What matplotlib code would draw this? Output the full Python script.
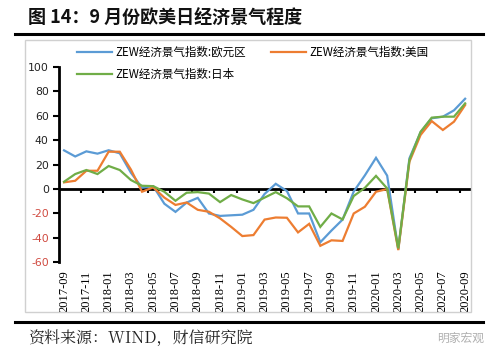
import matplotlib
matplotlib.use("Agg")
import matplotlib.pyplot as plt
from matplotlib.patches import Rectangle
from matplotlib.lines import Line2D

plt.rcParams['font.family'] = ['Noto Sans CJK SC', 'DejaVu Sans']

months = ["2017-09","2017-10","2017-11","2017-12","2018-01","2018-02","2018-03","2018-04",
          "2018-05","2018-06","2018-07","2018-08","2018-09","2018-10","2018-11","2018-12",
          "2019-01","2019-02","2019-03","2019-04","2019-05","2019-06","2019-07","2019-08",
          "2019-09","2019-10","2019-11","2019-12","2020-01","2020-02","2020-03","2020-04",
          "2020-05","2020-06","2020-07","2020-08","2020-09"]
euro = [31.7, 26.7, 30.9, 29.0, 31.8, 29.3, 13.4, 1.1, 2.4, -12.0, -18.7, -11.1, -7.2,
        -20.0, -22.0, -21.5, -21.0, -17.0, -4.0, 4.3, -1.6, -20.0, -20.0, -43.6, -34.0,
        -25.0, -2.0, 11.2, 25.6, 11.0, -49.5, 25.2, 46.5, 58.0, 59.3, 64.5, 74.0]
usa = [5.5, 6.8, 15.0, 15.0, 30.6, 30.6, 16.0, -2.2, 1.4, -7.0, -13.0, -11.0, -17.0,
       -18.6, -24.0, -31.0, -38.5, -37.7, -25.0, -23.3, -23.5, -35.5, -28.5, -46.5, -42.0,
       -42.5, -20.0, -14.5, -2.2, 0.0, -50.0, 22.4, 44.3, 55.7, 48.4, 55.2, 68.8]
japan = [6.0, 12.3, 15.6, 12.3, 18.9, 15.6, 7.4, 2.7, 2.4, -2.2, -9.6, -3.0, -2.5,
         -3.7, -10.7, -4.9, -8.5, -11.5, -7.0, -2.5, -7.5, -14.2, -14.2, -31.0, -20.0,
         -24.9, -5.7, 1.0, 10.8, 0.5, -48.6, 23.8, 46.9, 58.5, 59.3, 59.3, 70.2]
names = ["ZEW经济景气指数:欧元区", "ZEW经济景气指数:美国", "ZEW经济景气指数:日本"]
colors = ["#5B9BD5", "#ED7D31", "#70AD47"]
yticks = [-60, -40, -20, 0, 20, 40, 60, 80, 100]

W, H = 500, 357
fig = plt.figure(figsize=(W/100, H/100), dpi=100)

def fx(px): return px / W
def fy(py): return 1 - py / H

# Title
fig.text(fx(28), fy(18), "图 14：9 月份欧美日经济景气程度", fontsize=13, fontweight='bold',
         va='center', ha='left', color='#111111')
fig.add_artist(Line2D([fx(15), fx(483)], [fy(34), fy(34)], color='black', lw=2.2))
fig.add_artist(Line2D([fx(15), fx(483)], [fy(322), fy(322)], color='black', lw=2.2))
# chart border
fig.add_artist(Rectangle((fx(25), fy(312)), fx(471) - fx(25), fy(40) - fy(312),
                         fill=False, edgecolor='#d0d0d0', lw=1.0))
# source
fig.text(fx(28), fy(338), "资料来源：WIND，财信研究院", fontsize=11.5, style='italic',
         va='center', ha='left', color='#222222',
         family=['Noto Serif CJK SC', 'Noto Sans CJK SC', 'DejaVu Sans'])
fig.text(fx(484), fy(338), "明家宏观", fontsize=8.5, va='center', ha='right', color='#b0b0b0')

ax = fig.add_axes([fx(58.5), fy(262.3), (470.7 - 58.5) / W, fy(67) - fy(262.3)])
x = list(range(len(months)))
lines = []
for vals, c, n in zip([euro, usa, japan], colors, names):
    l, = ax.plot(x, vals, color=c, lw=1.6, label=n, solid_joinstyle='miter')
    lines.append(l)

ax.set_xlim(-0.5, len(months) - 0.5)
ax.set_ylim(-60, 100)
ax.axhline(0, color='black', lw=2.0, zorder=1)
bounds = [i - 0.5 for i in range(0, len(months), 2)]
ax.vlines(bounds, -3.5, 0, color='black', lw=1.5, zorder=1)

for s in ['top', 'right', 'bottom']:
    ax.spines[s].set_visible(False)
ax.spines['left'].set_linewidth(2.0)
ax.set_yticks(yticks)
ax.set_yticklabels([str(v) for v in yticks], fontsize=7.8, family='DejaVu Sans')
for lab, v in zip(ax.get_yticklabels(), yticks):
    lab.set_color('#D04A40' if v < 0 else '#222222')
ax.tick_params(axis='y', direction='out', length=4, width=1.5, pad=3)
ax.set_xticks(x[::2])
ax.set_xticklabels(months[::2], rotation=90, fontsize=9, family='Liberation Serif')
ax.tick_params(axis='x', length=0, pad=6)

leg = fig.legend([lines[0], lines[2], lines[1]], [names[0], names[2], names[1]],
                 ncol=2, loc='upper left', bbox_to_anchor=(fx(77), fy(46)),
                 frameon=False, fontsize=8.3, handlelength=3.0, handletextpad=0.3,
                 labelspacing=0.75, columnspacing=2.2, borderaxespad=0, borderpad=0)

fig.savefig("out.png", dpi=100)
